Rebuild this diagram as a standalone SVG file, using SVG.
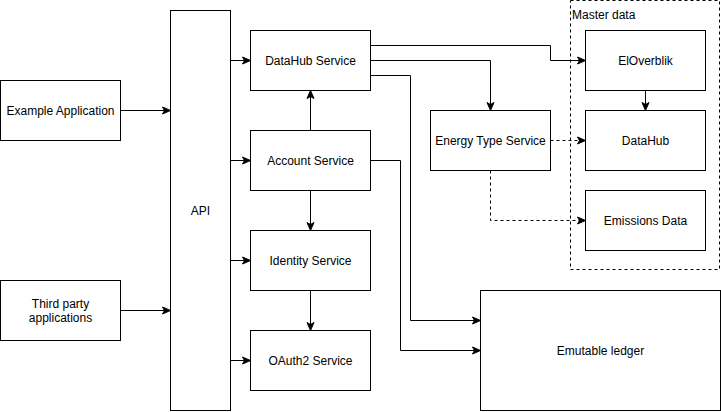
<svg xmlns="http://www.w3.org/2000/svg" width="721" height="412" viewBox="0 0 721 412">
<style>
.box{fill:#fff;stroke:#000;stroke-width:1}
.t{font-family:"Liberation Sans",Arial,sans-serif;font-size:12px;fill:#000;text-anchor:middle;dominant-baseline:central}
.e{fill:none;stroke:#000;stroke-width:1}
.d{stroke-dasharray:3,3}
</style>
<defs>
<marker id="a" viewBox="0 0 10 10" refX="9" refY="5" markerWidth="10" markerHeight="10" markerUnits="userSpaceOnUse" orient="auto">
<path d="M1,1.5 L9,5 L1,8.5 L3,5 z" fill="#000" stroke="#000" stroke-width="1"/>
</marker>
</defs>
<rect width="721" height="412" fill="#fff"/>
<g id="master-data">
<rect x="570.5" y="0.5" width="149" height="269" fill="none" stroke="#000" stroke-dasharray="3,3"/>
<text x="572" y="14.5" style="font-family:'Liberation Sans',Arial,sans-serif;font-size:12px;dominant-baseline:central" fill="#000">Master data</text>
</g>
<g id="api"><rect class="box" x="170.5" y="10.5" width="60" height="400"/><text class="t" x="200.5" y="210.5">API</text></g>
<g id="example-app"><rect class="box" x="0.5" y="80.5" width="120" height="60"/><text class="t" x="60.5" y="110.5">Example Application</text></g>
<g id="third-party"><rect class="box" x="0.5" y="280.5" width="120" height="60"/><text class="t" x="60.5" y="303.5">Third party</text><text class="t" x="60.5" y="317.5">applications</text></g>
<g id="datahub-service"><rect class="box" x="250.5" y="30.5" width="120" height="60"/><text class="t" x="310.5" y="60.5">DataHub Service</text></g>
<g id="account-service"><rect class="box" x="250.5" y="130.5" width="120" height="60"/><text class="t" x="310.5" y="160.5">Account Service</text></g>
<g id="identity-service"><rect class="box" x="250.5" y="230.5" width="120" height="60"/><text class="t" x="310.5" y="260.5">Identity Service</text></g>
<g id="oauth2-service"><rect class="box" x="250.5" y="330.5" width="120" height="60"/><text class="t" x="310.5" y="360.5">OAuth2 Service</text></g>
<g id="energy-type-service"><rect class="box" x="430.5" y="110.5" width="120" height="60"/><text class="t" x="490.5" y="140.5">Energy Type Service</text></g>
<g id="eloverblik"><rect class="box" x="585.5" y="30.5" width="120" height="60"/><text class="t" x="645.5" y="60.5">ElOverblik</text></g>
<g id="datahub"><rect class="box" x="585.5" y="110.5" width="120" height="60"/><text class="t" x="645.5" y="140.5">DataHub</text></g>
<g id="emissions-data"><rect class="box" x="585.5" y="190.5" width="120" height="60"/><text class="t" x="645.5" y="220.5">Emissions Data</text></g>
<g id="emutable-ledger"><rect class="box" x="480.5" y="290.5" width="240" height="120"/><text class="t" x="600.5" y="350.5">Emutable ledger</text></g>
<g id="connectors">
<path class="e" d="M120.5,110.5 H170.5" marker-end="url(#a)"/>
<path class="e" d="M120.5,310.5 H170.5" marker-end="url(#a)"/>
<path class="e" d="M230.5,60.5 H250.5" marker-end="url(#a)"/>
<path class="e" d="M230.5,160.5 H250.5" marker-end="url(#a)"/>
<path class="e" d="M230.5,260.5 H250.5" marker-end="url(#a)"/>
<path class="e" d="M230.5,360.5 H250.5" marker-end="url(#a)"/>
<path class="e" d="M310.5,130.5 V90.5" marker-end="url(#a)"/>
<path class="e" d="M310.5,190.5 V230.5" marker-end="url(#a)"/>
<path class="e" d="M310.5,290.5 V330.5" marker-end="url(#a)"/>
<path class="e" d="M370.5,45.5 H550.5 V60.5 H585.5" marker-end="url(#a)"/>
<path class="e" d="M370.5,60.5 H490.5 V110.5" marker-end="url(#a)"/>
<path class="e" d="M370.5,75.5 H410.5 V320.5 H480.5" marker-end="url(#a)"/>
<path class="e" d="M370.5,160.5 H400.5 V350.5 H480.5" marker-end="url(#a)"/>
<path class="e d" d="M550.5,140.5 H585.5" marker-end="url(#a)"/>
<path class="e d" d="M490.5,170.5 V220.5 H585.5" marker-end="url(#a)"/>
<path class="e" d="M645.5,90.5 V110.5" marker-end="url(#a)"/>
</g>
</svg>
